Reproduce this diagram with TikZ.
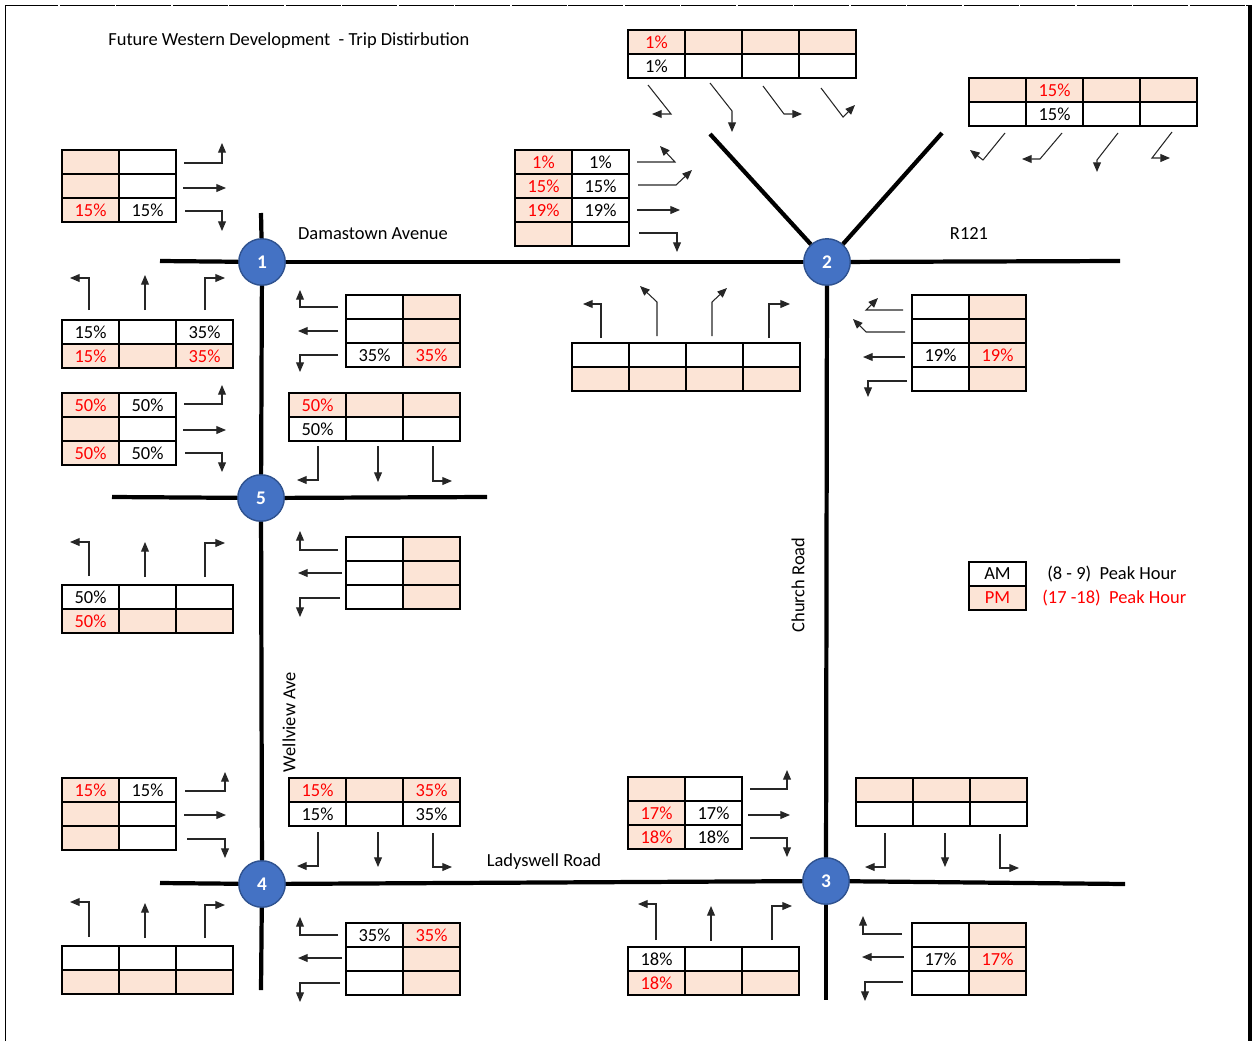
\documentclass[tikz,border=0pt]{standalone}
\usepackage{fontspec}
\setmainfont{Carlito}
\usetikzlibrary{arrows.meta}
\definecolor{pinkc}{RGB}{252,228,214}
\definecolor{jblue}{RGB}{68,114,196}
\definecolor{jedge}{RGB}{47,82,143}
\newcommand{\cfont}{\fontsize{10.5pt}{12.5pt}\selectfont}

% \grid{name}{left}{top}{columns}{rows}{test on \r,\c that is 1 for a shaded cell}
\newcommand{\grid}[6]{%
  \foreach \r in {1,...,#5}{%
    \foreach \c in {1,...,#4}{%
      \pgfmathtruncatemacro\ispk{(#6)}%
      \ifnum\ispk=1 \def\cf{pinkc}\else\def\cf{white}\fi
      \node[cell, fill=\cf] (#1-\r-\c) at ({#2+(\c-0.5)*57},{#3+(\r-0.5)*24}) {};
    }%
  }%
}
% values: PM (red) and AM (black)
\newcommand{\pmv}[2]{\node[val, text=red] at (#1) {#2};}
\newcommand{\amv}[2]{\node[val] at (#1) {#2};}

\begin{document}
\begin{tikzpicture}[x=0.02cm,y=-0.02cm,
  cell/.style={draw, line width=1.3pt, minimum width=1.14cm,
    minimum height=0.48cm, inner sep=0pt, outer sep=0pt},
  val/.style={font=\cfont, inner sep=0pt},
  road/.style={line width=2.4pt},
  jn/.style={circle, fill=jblue, draw=jedge, line width=0.8pt, minimum size=0.93cm,
    inner sep=0pt, text=white, font=\bfseries\fontsize{11pt}{13pt}\selectfont},
  turn/.style={line width=0.6pt, draw=black!85, -{Triangle[length=5.5pt,width=4.5pt]}},
  lbl/.style={font=\cfont, inner sep=0pt}]

\useasboundingbox (0,0) rectangle (1253,1041);

% page frame
\draw[line width=0.5pt] (5,1041) -- (5,5);
\draw[line width=0.5pt, dash pattern=on 1.1cm off 0.03cm, dash phase=0.03cm] (5,5) -- (1250,5);
\draw[line width=1.8pt] (1250,5) -- (1250,1041);

\node[lbl, anchor=west] (title) at (108,41) {Future Western Development\ \ - Trip Distirbution};

% junctions
\node[jn] (n1) at (262,262) {1};
\node[jn] (n2) at (827,262) {2};
\node[jn] (n3) at (826,881) {3};
\node[jn] (n4) at (262,884) {4};
\node[jn] (n5) at (261,498) {5};

% free road ends
\coordinate (dW) at (160,261);
\coordinate (dE) at (1120,261);
\coordinate (wN) at (261,213);
\coordinate (wS) at (261,990);
\coordinate (fW) at (112,497);
\coordinate (fE) at (487,497);
\coordinate (lW) at (160,883);
\coordinate (lE) at (1125,884);
\coordinate (cS) at (826,1000);
\coordinate (aNW) at (710,134);
\coordinate (aNE) at (942,133);

% roads
\draw[road] (dW) -- (n1);
\draw[road] (n1) -- (n2);
\draw[road] (n2) -- (dE);
\draw[road] (wN) -- (n1);
\draw[road] (n1) -- (n5);
\draw[road] (n5) -- (n4);
\draw[road] (n4) -- (wS);
\draw[road] (fW) -- (n5);
\draw[road] (n5) -- (fE);
\draw[road] (lW) -- (n4);
\draw[road] (n4) -- (n3);
\draw[road] (n3) -- (lE);
\draw[road] (n2) -- (n3);
\draw[road] (n3) -- (cS);
\draw[road] (n2) -- (aNW);
\draw[road] (n2) -- (aNE);

% road names
\node[lbl] (damastown) at (373,234) {Damastown Avenue};
\node[lbl] (r121) at (969,234) {R121};
\node[lbl] (ladyswell) at (544,862) {Ladyswell Road};
\node[lbl, rotate=90] (church) at (798,585) {Church Road};
\node[lbl, rotate=90] (wellview) at (289,722) {Wellview Ave};

% ---------- junction 1 ----------
\grid{tA}{62}{150}{2}{3}{\c==1}
\pmv{tA-3-1}{15\%} \amv{tA-3-2}{15\%}
\draw[turn] (184,163) -| (222,143);
\draw[turn] (183,188) -- (226,188);
\draw[turn] (185,211) -| (222,231);

\grid{tB}{62}{320}{3}{2}{\r==2}
\amv{tB-1-1}{15\%} \amv{tB-1-3}{35\%}
\pmv{tB-2-1}{15\%} \pmv{tB-2-3}{35\%}
\draw[turn] (89,310) |- (70,278);
\draw[turn] (145,310) -- (145,275);
\draw[turn] (205,310) |- (225,278);

\grid{tC}{346}{295}{2}{3}{\c==2}
\amv{tC-3-1}{35\%} \pmv{tC-3-2}{35\%}
\draw[turn] (338,307) -| (300,290);
\draw[turn] (338,331) -- (298,331);
\draw[turn] (338,355) -| (300,372);

% ---------- junction 5 ----------
\grid{tD}{62}{393}{2}{3}{\c==1}
\pmv{tD-1-1}{50\%} \amv{tD-1-2}{50\%}
\pmv{tD-3-1}{50\%} \amv{tD-3-2}{50\%}
\draw[turn] (184,404) -| (222,385);
\draw[turn] (183,430) -- (226,430);
\draw[turn] (185,453) -| (222,472);

\grid{tE}{289}{393}{3}{2}{\r==1}
\pmv{tE-1-1}{50\%} \amv{tE-2-1}{50\%}
\draw[turn] (318,446) |- (297,480);
\draw[turn] (378,446) -- (378,482);
\draw[turn] (433,446) |- (452,481);

\grid{tF}{62}{585}{3}{2}{\r==2}
\amv{tF-1-1}{50\%} \pmv{tF-2-1}{50\%}
\draw[turn] (89,576) |- (70,542);
\draw[turn] (145,577) -- (145,542);
\draw[turn] (205,577) |- (225,543);

\grid{tG}{346}{537}{2}{3}{\c==2}
\draw[turn] (338,550) -| (300,531);
\draw[turn] (342,573) -- (298,573);
\draw[turn] (340,598) -| (300,617);

% ---------- junction 4 ----------
\grid{tH}{62}{778}{2}{3}{\c==1}
\pmv{tH-1-1}{15\%} \amv{tH-1-2}{15\%}
\draw[turn] (185,791) -| (225,772);
\draw[turn] (184,815) -- (226,815);
\draw[turn] (187,839) -| (225,858);

\grid{tI}{289}{778}{3}{2}{\r==1}
\pmv{tI-1-1}{15\%} \pmv{tI-1-3}{35\%}
\amv{tI-2-1}{15\%} \amv{tI-2-3}{35\%}
\draw[turn] (318,832) |- (297,866);
\draw[turn] (378,832) -- (378,867);
\draw[turn] (433,833) |- (452,867);

\grid{tJ}{62}{946}{3}{2}{\r==2}
\draw[turn] (89,937) |- (70,902);
\draw[turn] (145,938) -- (145,903);
\draw[turn] (205,938) |- (225,905);

\grid{tK}{346}{923}{2}{3}{\c==2}
\amv{tK-1-1}{35\%} \pmv{tK-1-2}{35\%}
\draw[turn] (338,935) -| (300,917);
\draw[turn] (342,958) -- (298,958);
\draw[turn] (340,983) -| (300,1002);

% ---------- junction 3 ----------
\grid{tL}{628}{777}{2}{3}{\c==1}
\pmv{tL-2-1}{17\%} \amv{tL-2-2}{17\%}
\pmv{tL-3-1}{18\%} \amv{tL-3-2}{18\%}
\draw[turn] (750,789) -| (787,770);
\draw[turn] (748,815) -- (790,815);
\draw[turn] (750,838) -| (787,857);

\grid{tM}{856}{778}{3}{2}{\r==1}
\draw[turn] (885,833) |- (865,867);
\draw[turn] (945,833) -- (945,867);
\draw[turn] (1000,834) |- (1019,868);

\grid{tN}{628}{947}{3}{2}{\r==2}
\amv{tN-1-1}{18\%} \pmv{tN-2-1}{18\%}
\draw[turn] (656,940) |- (638,904);
\draw[turn] (711,941) -- (711,906);
\draw[turn] (772,940) |- (792,906);

\grid{tO}{912}{923}{2}{3}{\c==2}
\amv{tO-2-1}{17\%} \pmv{tO-2-2}{17\%}
\draw[turn] (902,934) -| (863,916);
\draw[turn] (904,957) -- (862,957);
\draw[turn] (903,982) -| (865,1001);

% ---------- junction 2 ----------
\grid{tP}{515}{150}{2}{4}{\c==1}
\pmv{tP-1-1}{1\%}  \amv{tP-1-2}{1\%}
\pmv{tP-2-1}{15\%} \amv{tP-2-2}{15\%}
\pmv{tP-3-1}{19\%} \amv{tP-3-2}{19\%}
\draw[turn] (637,162) -- (675,162) -- (660,146);
\draw[turn] (638,185) -- (676,185) -- (692,170);
\draw[turn] (637,210) -- (680,210);
\draw[turn] (639,233) -| (677,252);

\grid{tQ}{628}{30}{4}{2}{\r==1}
\pmv{tQ-1-1}{1\%} \amv{tQ-2-1}{1\%}
\draw[turn] (648,85) -- (671,114) -- (652,114);
\draw[turn] (710,83) -- (732,111) -- (732,132);
\draw[turn] (763,86) -- (784,114) -- (802,114);
\draw[turn] (821,88) -- (843,117) -- (855,105);

\grid{tR}{969}{78}{4}{2}{\r==1}
\pmv{tR-1-2}{15\%} \amv{tR-2-2}{15\%}
\draw[turn] (1005,133) -- (983,160) -- (970,150);
\draw[turn] (1062,133) -- (1040,159) -- (1022,159);
\draw[turn] (1118,133) -- (1097,160) -- (1097,172);
\draw[turn] (1172,132) -- (1152,158) -- (1170,158);

\grid{tS}{572}{343}{4}{2}{\r==2}
\draw[turn] (601,338) |- (583,304);
\draw[turn] (657,336) -- (657,302) -- (640,286);
\draw[turn] (712,336) -- (712,302) -- (727,288);
\draw[turn] (769,338) |- (790,304);

\grid{tT}{912}{295}{2}{4}{\c==2}
\amv{tT-3-1}{19\%} \pmv{tT-3-2}{19\%}
\draw[turn] (903,310) -- (866,310) -- (878,298);
\draw[turn] (905,332) -- (866,332) -- (853,319);
\draw[turn] (905,357) -- (863,357);
\draw[turn] (907,381) -| (868,397);

% ---------- legend ----------
\grid{key}{969}{562}{1}{2}{\r==2}
\amv{key-1-1}{AM} \pmv{key-2-1}{PM}
\node[lbl, anchor=west] (amtxt) at (1047,574) {(8 - 9)\ \ Peak Hour};
\node[lbl, anchor=west, text=red] (pmtxt) at (1042,598) {(17 -18)\ \ Peak Hour};

\end{tikzpicture}
\end{document}
